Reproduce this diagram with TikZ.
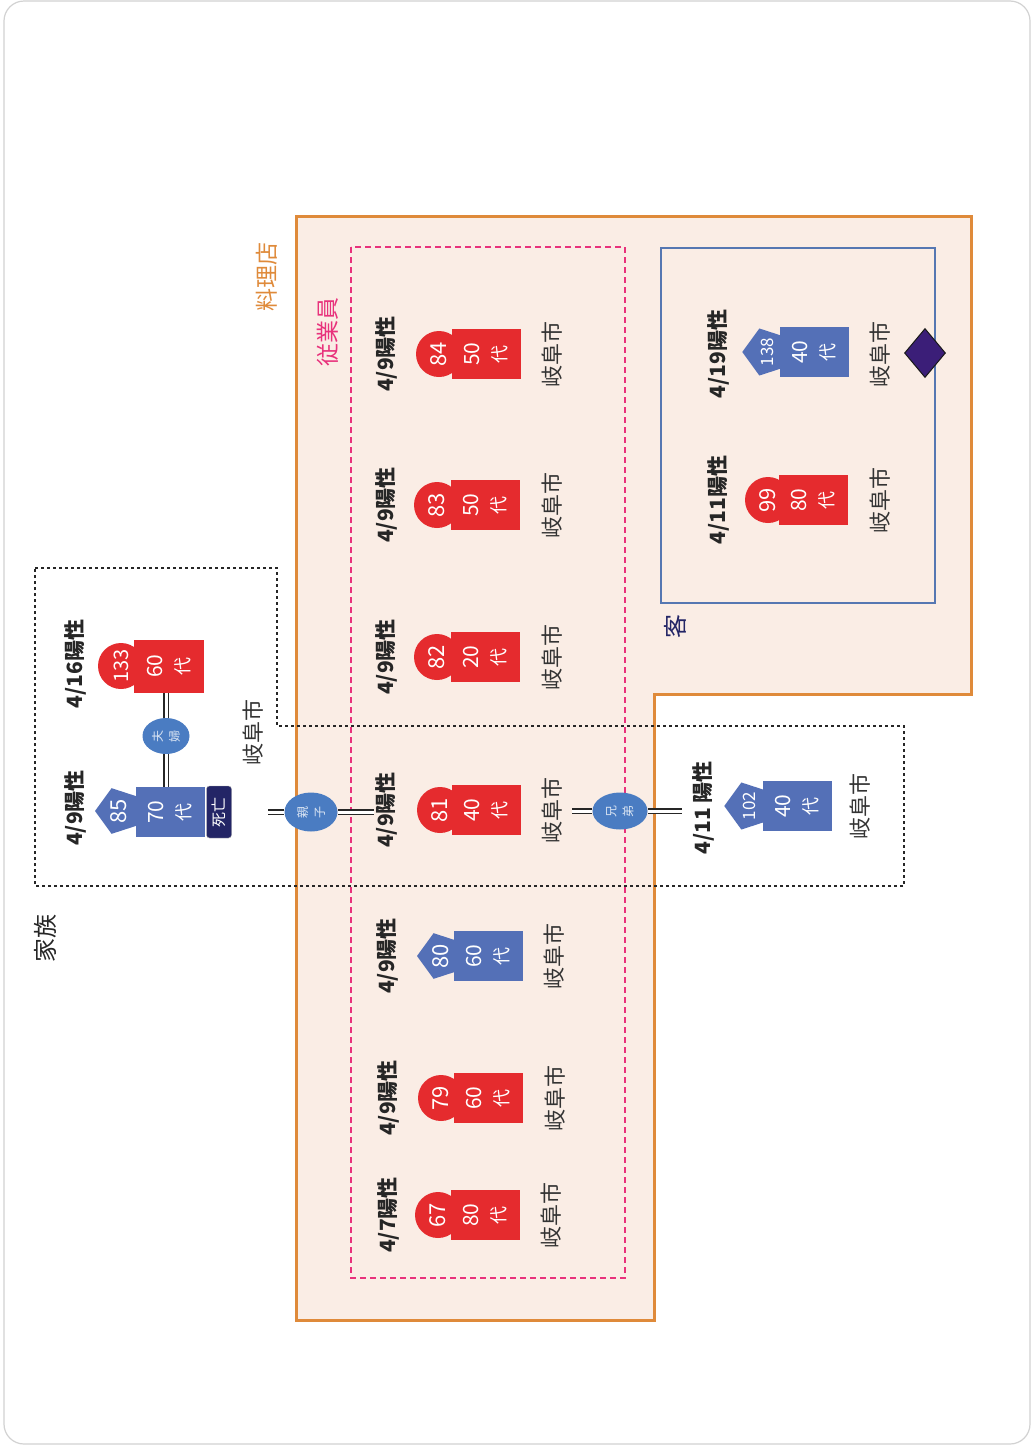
\documentclass[tikz,border=0pt]{standalone}
\usepackage{fontspec}
\setmainfont{Noto Sans CJK JP}
\usetikzlibrary{shapes.geometric}
\newcommand\myfs[1]{\fontsize{#1}{#1}\selectfont}
\newcommand\agetxt[1]{#1\\{\fontsize{18}{27}\selectfont 代}}
\definecolor{myred}{HTML}{E52B2E}
\definecolor{myblue}{HTML}{5470B7}
\definecolor{relblue}{HTML}{4A7CC2}
\definecolor{myorange}{HTML}{DF8A3A}
\definecolor{peach}{HTML}{FAEDE5}
\definecolor{mypink}{HTML}{E8327C}
\definecolor{kyblue}{HTML}{5577B2}
\definecolor{navy}{HTML}{232566}
\definecolor{diapurple}{HTML}{3B1E78}
\begin{document}
\begin{tikzpicture}[x=1pt,y=-1pt,
  datelbl/.style={rotate=90, font=\bfseries\myfs{21}, text=black!85, inner sep=1pt},
  citylbl/.style={rotate=90, font=\myfs{22}, text=black!80, inner sep=1pt},
  agebox/.style={rotate=90, minimum width=50pt, minimum height=69pt, inner sep=0pt, align=center, text=white, font=\fontsize{21}{27}\selectfont},
  redbox/.style={agebox, fill=myred},
  bluebox/.style={agebox, fill=myblue},
  circbadge/.style={rotate=90, circle, fill=myred, minimum size=46pt, inner sep=0pt, text=white, font=\myfs{22}},
  pentbadge/.style={rotate=90, regular polygon, regular polygon sides=5, fill=myblue, minimum size=48pt, inner sep=0pt, text=white, font=\myfs{22}},
  relnode/.style={rotate=90, ellipse, fill=relblue, minimum width=36pt, minimum height=47pt, inner sep=0pt, align=center, text=white!80!relblue, font=\fontsize{12}{17}\selectfont},
  dbl/.style={draw=black!85, double=white, double distance=3pt, line width=1.4pt},
  grplabel/.style={rotate=90, font=\myfs{23}, inner sep=1pt}
]
\useasboundingbox (0,0) rectangle (1033,1449);
\fill[white] (0,0) rectangle (1033,1449);
\draw[gray!35, line width=1.2pt, rounded corners=20pt] (4,1) rectangle (1030,1444);

% restaurant region
\draw[myorange, fill=peach, line width=3pt] (296,216) -- (971,216) -- (971,694) -- (654,694) -- (654,1320) -- (296,1320) -- cycle;
\node[grplabel, text=myorange] (lbl-rest) at (267,277) {料理店};

% employees
\draw[mypink, line width=1.8pt, dash pattern=on 6pt off 4pt] (351,247) rectangle (625,1278);
\node[grplabel, text=mypink] (lbl-emp) at (328,332) {従業員};

% customers
\draw[kyblue, line width=2pt] (661,248) rectangle (935,603);
\node[grplabel, text=navy, font=\myfs{24}] (lbl-cust) at (675,626) {客};

% family
\draw[black!85, line width=2.8pt, dash pattern=on 3pt off 3pt] (35,568) -- (277,568) -- (277,726) -- (904,726) -- (904,886) -- (35,886) -- cycle;
\node[grplabel, text=black!85, font=\myfs{24}] (lbl-fam) at (45,938) {家族};

% ---- employees column
% 84
\node[datelbl] (d84) at (386,354) {4/9陽性};
\node[circbadge] (b84) at (439,354) {84};
\node[redbox] (a84) at (486,354) {\agetxt{50}};
\node[citylbl] (c84) at (552,354) {岐阜市};
% 83
\node[datelbl] (d83) at (386,505) {4/9陽性};
\node[circbadge] (b83) at (437,505) {83};
\node[redbox] (a83) at (485,505) {\agetxt{50}};
\node[citylbl] (c83) at (552,505) {岐阜市};
% 82
\node[datelbl] (d82) at (386,657) {4/9陽性};
\node[circbadge] (b82) at (437,657) {82};
\node[redbox] (a82) at (485,657) {\agetxt{20}};
\node[citylbl] (c82) at (552,657) {岐阜市};
% 81
\node[datelbl] (d81) at (386,810) {4/9陽性};
\node[circbadge] (b81) at (440,810) {81};
\node[redbox] (a81) at (486,810) {\agetxt{40}};
\node[citylbl] (c81) at (552,810) {岐阜市};
% 80
\node[datelbl] (d80) at (387,956) {4/9陽性};
\node[pentbadge] (b80) at (441,956) {80};
\node[bluebox] (a80) at (488,956) {\agetxt{60}};
\node[citylbl] (c80) at (554,956) {岐阜市};
% 79
\node[datelbl] (d79) at (388,1098) {4/9陽性};
\node[circbadge] (b79) at (441,1098) {79};
\node[redbox] (a79) at (488,1098) {\agetxt{60}};
\node[citylbl] (c79) at (555,1098) {岐阜市};
% 67
\node[datelbl] (d67) at (388,1215) {4/7陽性};
\node[circbadge] (b67) at (438,1215) {67};
\node[redbox] (a67) at (485,1215) {\agetxt{80}};
\node[citylbl] (c67) at (551,1215) {岐阜市};

% ---- customers
% 138
\node[datelbl] (d138) at (718,354) {4/19陽性};
\node[pentbadge, font=\myfs{17}] (b138) at (767,352) {138};
\node[bluebox] (a138) at (814,352) {\agetxt{40}};
\node[citylbl] (c138) at (880,354) {岐阜市};
\node[diamond, draw=black!90, line width=1pt, fill=diapurple, minimum width=41pt, minimum height=49pt, inner sep=0pt, aspect=0.84] (dia138) at (925,353) {};
% 99
\node[datelbl] (d99) at (718,500) {4/11陽性};
\node[circbadge] (b99) at (768,500) {99};
\node[redbox] (a99) at (813,500) {\agetxt{80}};
\node[citylbl] (c99) at (880,500) {岐阜市};

% ---- family
% 133
\node[datelbl] (d133) at (75,664) {4/16陽性};
\node[circbadge, font=\myfs{20}] (b133) at (121,666) {133};
\node[redbox, minimum width=53pt, minimum height=70pt] (a133) at (169,666) {\agetxt{60}};
% 85
\node[datelbl] (d85) at (75,808) {4/9陽性};
\node[pentbadge] (b85) at (119,811) {85};
\node[bluebox] (a85) at (170,812) {\agetxt{70}};
\node[rotate=90, fill=navy, draw=gray!60, rounded corners=3pt, minimum width=52pt, minimum height=25pt, inner sep=0pt, text=white, font=\myfs{15}] (dead85) at (219,812) {死亡};
\node[citylbl] (cfam) at (253,732) {岐阜市};
% 102
\node[datelbl] (d102) at (703,808) {4/11 陽性};
\node[pentbadge, font=\myfs{17}] (b102) at (749,806) {102};
\node[bluebox] (a102) at (797,806) {\agetxt{40}};
\node[citylbl] (c102) at (860,806) {岐阜市};

% ---- relations
\node[relnode] (fuufu) at (166,736) {夫\\婦};
\node[relnode, minimum width=39pt, minimum height=53pt] (oyako) at (311,812) {親\\子};
\node[relnode, minimum width=37pt, minimum height=55pt] (kyoudai) at (620,811) {兄\\弟};
\coordinate (famend) at (268,812);

\draw[dbl] (fuufu |- a133.west) -- (fuufu);
\draw[dbl] (fuufu) -- (fuufu |- a85.east);
\draw[dbl] (famend) -- (oyako);
\draw[dbl] (oyako) -- (oyako -| d81.north);
\draw[dbl, shorten <=9pt] (kyoudai -| c81.south) -- (kyoudai);
\draw[dbl, shorten >=9pt] (kyoudai) -- (kyoudai -| d102.north);
\end{tikzpicture}
\end{document}
